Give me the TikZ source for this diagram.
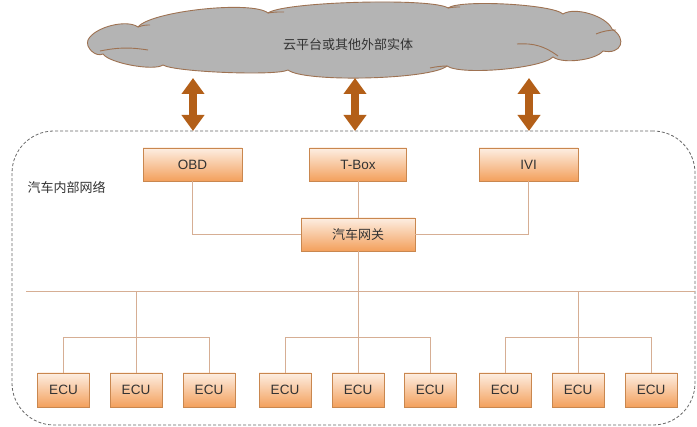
\documentclass[tikz,border=0pt]{standalone}
\usepackage{fontspec}
\setmainfont{Liberation Sans}
\newfontfamily\cjk{Noto Sans CJK SC}
\usetikzlibrary{arrows.meta}
\definecolor{boxtop}{HTML}{FDEEE2}
\definecolor{boxbot}{HTML}{F3A05C}
\definecolor{boxedge}{HTML}{C9874F}
\definecolor{wire}{HTML}{D6AE94}
\definecolor{arrowc}{HTML}{B35F18}
\definecolor{cloudfill}{HTML}{B4B4B4}
\definecolor{cloudedge}{HTML}{9E7252}
\definecolor{txt}{HTML}{333333}
\tikzset{
  x=1pt,y=-1pt,
  orbox/.style={draw=boxedge, line width=0.8pt, top color=boxtop, bottom color=boxbot,
     minimum height=33pt, inner sep=0pt, text=txt, font=\fontsize{13.5}{15}\selectfont},
  ecubox/.style={orbox, minimum width=52pt, minimum height=34pt},
  wireline/.style={draw=wire, line width=0.8pt},
  cloudline/.style={draw=cloudedge, line width=0.9pt},
  bigarrow/.style={draw=arrowc, line width=8pt,
     {Triangle[length=16pt,width=22pt]}-{Triangle[length=16pt,width=22pt]}},
}
\begin{document}
\begin{tikzpicture}
\useasboundingbox (0,0) rectangle (697,427);
% cloud
\path[cloudline, fill=cloudfill]
  (88,40) to[bend left=50, looseness=0.7] (138,27)
  to[bend left=45, looseness=0.4] (268,13)
  to[bend left=35, looseness=0.27] (448,8)
  to[bend left=40, looseness=0.32] (563,14)
  to[bend left=50, looseness=0.7] (612,29)
  to[bend left=80, looseness=2] (603,51)
  to[bend left=45, looseness=0.6] (553,57)
  to[bend left=40, looseness=0.4] (447,66)
  to[bend left=40, looseness=0.33] (288,70)
  to[bend left=30, looseness=0.27] (163,65)
  to[bend left=45, looseness=0.47] (103,54)
  to[bend left=70, looseness=1] cycle;
\draw[cloudline] (100,51) to[bend left=10] (148,50);
\draw[cloudline] (517,44) to[bend left=20] (558,56);
\draw[cloudline] (596,34) to[bend left=10] (616,30);
\draw[cloudline] (138,27) to[bend left=10] (150,25);
\draw[cloudline] (268,13) to[bend left=5] (284,12);
\draw[cloudline] (448,8) to[bend left=5] (460,7);
\draw[cloudline] (447,66) to[bend right=5] (430,68);
\node[text=txt, font=\cjk\fontsize{13}{15}\selectfont] (cloudtxt) at (348,45) {云平台或其他外部实体};
% dashed frame
\node[draw=gray!80!black, dash pattern=on 3pt off 2pt, rounded corners=42pt, line width=0.8pt,
      minimum width=683pt, minimum height=294pt, inner sep=0pt] (frame) at (353.5,278) {};
\node[anchor=west, text=txt, font=\cjk\fontsize{13}{15}\selectfont] (lbl) at (24,187) {汽车内部网络};
% arrows
\coordinate (a1t) at (193,78); \coordinate (a1b) at (193,131);
\coordinate (a2t) at (355,78); \coordinate (a2b) at (355,131);
\coordinate (a3t) at (529,78); \coordinate (a3b) at (529,131);
\draw[bigarrow] (a1t) -- (a1b);
\draw[bigarrow] (a2t) -- (a2b);
\draw[bigarrow] (a3t) -- (a3b);
% top boxes
\node[orbox, minimum width=99pt] (obd) at (192.5,164.5) {OBD};
\node[orbox, minimum width=97pt] (tbox) at (358,164.5) {T-Box};
\node[orbox, minimum width=99pt] (ivi) at (528.5,164.5) {IVI};
\node[orbox, minimum width=114pt, font=\cjk\fontsize{13}{15}\selectfont] (gw) at (358,234.5) {汽车网关};
% ECUs
\foreach \i/\x in {1/63.5,2/136,3/209,4/285,5/358,6/430,7/505,8/578,9/651}{
  \node[ecubox] (ecu\i) at (\x,390) {ECU};
}
% bus
\coordinate (busL) at (26,291);
\coordinate (busR) at (695,291);
\draw[wireline] (busL) -- (busR);
% gateway connections
\draw[wireline] (obd.south) |- (gw.west);
\draw[wireline] (ivi.south) |- (gw.east);
\draw[wireline] (tbox.south) -- (gw.north);
\draw[wireline] (gw.south) -- (gw.south |- busL);
% groups
\foreach \a/\m/\b in {1/2/3,4/5/6,7/8/9}{
  \draw[wireline] (ecu\m.north) -- (ecu\m.north |- busL);
  \draw[wireline] (ecu\a.north) -- ++(0,-35) -| (ecu\b.north);
}
\end{tikzpicture}
\end{document}
